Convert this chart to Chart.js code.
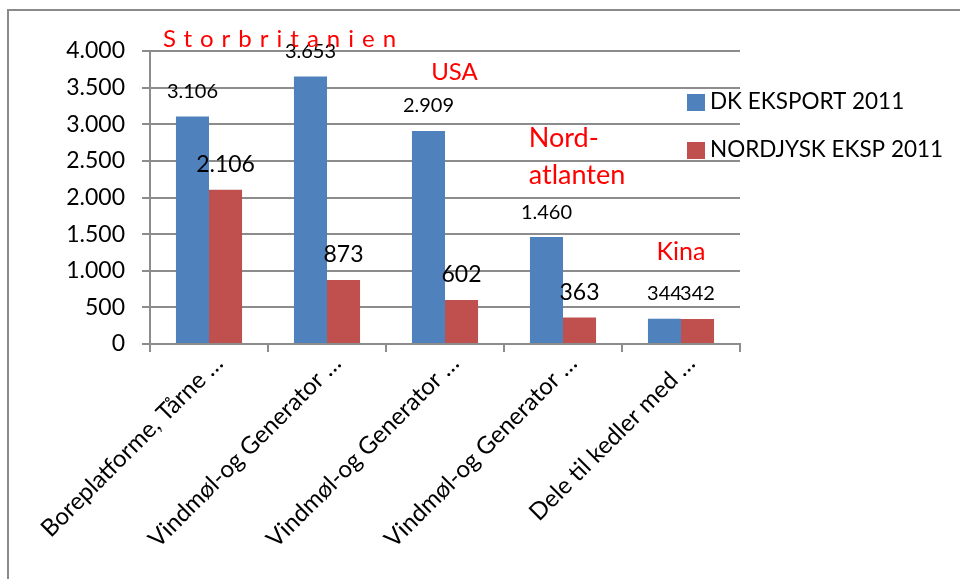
<!DOCTYPE html>
<html lang="da">
<head>
<meta charset="UTF-8">
<title>Eksport 2011</title>
<script src="https://cdn.jsdelivr.net/npm/chart.js@4"></script>
<style>
  html, body { margin: 0; padding: 0; background: #fff; }
  #wrap { position: relative; width: 960px; height: 579px; }
</style>
</head>
<body>
<div id="wrap"><canvas id="exportChart" width="960" height="579"></canvas></div>
<script>
// chart data
const categories = [
  'Boreplatforme, Tårne …',
  'Vindmøl-og Generator …',
  'Vindmøl-og Generator …',
  'Vindmøl-og Generator …',
  'Dele til kedler med …'
];
const seriesNames = ['DK EKSPORT 2011', 'NORDJYSK EKSP 2011'];
const dkExport = [3106, 3653, 2909, 1460, 344];
const nordjyskExport = [2106, 873, 602, 363, 342];
const yMin = 0, yMax = 4000, yStep = 500;
const countryNotes = ['Storbritanien', 'USA', 'Nord-\natlanten', 'Kina'];

const BLUE = '#4f81bd';
const RED = '#c0504d';
const GRID = '#8c8c8c';
const FONT = 'Lato, "Open Sans", sans-serif';

// 4000 -> "4.000"
function fmt(v) {
  return String(v).replace(/\B(?=(\d{3})+(?!\d))/g, '.');
}

// outer frame of the chart object
const frame = {
  id: 'frame',
  beforeDraw(chart) {
    const ctx = chart.ctx;
    ctx.save();
    ctx.fillStyle = '#fff';
    ctx.fillRect(0, 0, chart.width, chart.height);
    ctx.strokeStyle = '#8a8a8a';
    ctx.lineWidth = 2;
    ctx.strokeRect(8, 10, 1000, 1000);
    ctx.restore();
  }
};

// value labels over each bar
const valueLabels = {
  id: 'valueLabels',
  afterDatasetsDraw(chart, args, opts) {
    const ctx = chart.ctx;
    chart.data.datasets.forEach((ds, i) => {
      const meta = chart.getDatasetMeta(i);
      meta.data.forEach((bar, j) => {
        ctx.save();
        ctx.font = opts.sizes[i][j] + 'px ' + FONT;
        ctx.fillStyle = '#000';
        ctx.textAlign = 'center';
        ctx.textBaseline = 'middle';
        ctx.fillText(fmt(ds.data[j]), bar.x, bar.y - opts.offset);
        ctx.restore();
      });
    });
  }
};

// red country notes, placed in data units
const notes = {
  id: 'notes',
  afterDraw(chart, args, opts) {
    const ctx = chart.ctx;
    const x = chart.scales.x, y = chart.scales.y;
    opts.items.forEach((it, k) => {
      const px = x.left + (it.cat + 0.5) * (x.width / categories.length);
      const py = y.getPixelForValue(it.value);
      ctx.save();
      ctx.font = it.size + 'px ' + FONT;
      ctx.fillStyle = '#ff0000';
      ctx.textAlign = it.align;
      ctx.textBaseline = 'middle';
      if (it.spacing) ctx.letterSpacing = it.spacing + 'px';
      countryNotes[k].split('\n').forEach((line, n) => {
        ctx.fillText(line, px, py + n * opts.lineHeight);
      });
      ctx.restore();
    });
  }
};

// legend drawn at the right, over the plot
const sideLegend = {
  id: 'sideLegend',
  afterDraw(chart, args, opts) {
    const ctx = chart.ctx;
    chart.data.datasets.forEach((ds, i) => {
      const y = opts.top + i * opts.gap;
      ctx.save();
      ctx.fillStyle = ds.backgroundColor;
      ctx.fillRect(opts.left, y - 8, 18, 17);
      ctx.font = opts.size + 'px ' + FONT;
      ctx.fillStyle = '#000';
      ctx.textBaseline = 'middle';
      ctx.fillText(ds.label, opts.left + 23, y);
      ctx.restore();
    });
  }
};

const ctx = document.getElementById('exportChart').getContext('2d');
const chart = new Chart(ctx, {
  type: 'bar',
  data: {
    labels: categories,
    datasets: [
      { label: seriesNames[0], data: dkExport, backgroundColor: BLUE },
      { label: seriesNames[1], data: nordjyskExport, backgroundColor: RED }
    ]
  },
  options: {
    responsive: false,
    animation: false,
    layout: { padding: { top: 51, right: 220, left: 0, bottom: 0 } },
    datasets: { bar: { categoryPercentage: 0.56, barPercentage: 1 } },
    plugins: {
      legend: { display: false },
      tooltip: { enabled: false },
      valueLabels: { offset: 25, sizes: [[20, 20, 20, 20, 20], [23, 23, 23, 23, 20]] },
      notes: {
        lineHeight: 37,
        items: [
          { cat: -0.39, value: 4164, align: 'left', spacing: 8, size: 24 },
          { cat: 2.08, value: 3713, align: 'center', size: 24 },
          { cat: 2.71, value: 2812, align: 'left', size: 27 },
          { cat: 4.0, value: 1256, align: 'center', size: 25 }
        ]
      },
      sideLegend: { left: 687, top: 102, gap: 48, size: 22.5 }
    },
    scales: {
      x: {
        afterFit(scale) { scale.height = 235; scale.paddingLeft = 0; scale.paddingRight = 0; },
        grid: { drawOnChartArea: false, color: GRID, lineWidth: 2, tickLength: 8 },
        border: { color: GRID, width: 2 },
        ticks: {
          color: '#000',
          font: { family: FONT, size: 24 },
          minRotation: 45,
          maxRotation: 45,
          padding: -3,
          labelOffset: 10
        }
      },
      y: {
        min: yMin,
        max: yMax,
        afterFit(scale) { scale.width = 150; },
        grid: { color: GRID, lineWidth: 2, tickLength: 8 },
        border: { color: GRID, width: 2 },
        ticks: {
          stepSize: yStep,
          color: '#000',
          padding: 17,
          font: { family: FONT, size: 23 },
          callback: (v) => fmt(v)
        }
      }
    }
  },
  plugins: [frame, valueLabels, notes, sideLegend]
});
</script>
</body>
</html>
